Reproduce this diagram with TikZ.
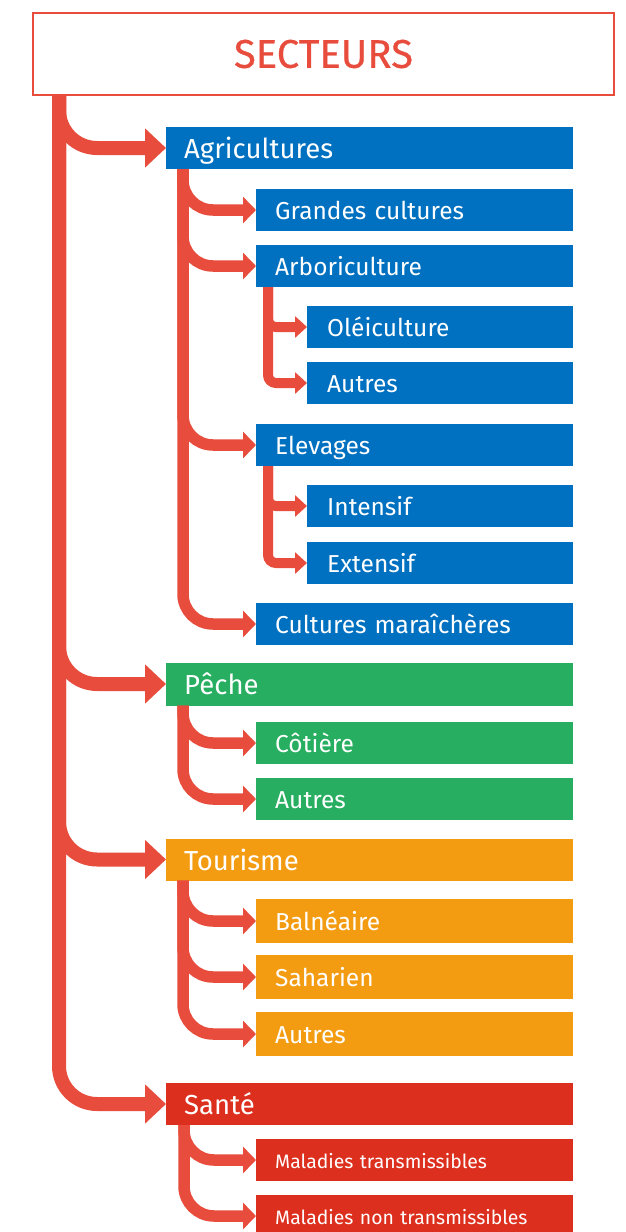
\documentclass[tikz,border=0pt]{standalone}
\usepackage{fontspec}
\setmainfont{Fira Sans}
\newfontfamily\titlefont{Fira Sans}[FakeBold=0.6]
\usetikzlibrary{arrows.meta}

\definecolor{lien}{HTML}{E74C3C}
\definecolor{bleu}{HTML}{0070C0}
\definecolor{vert}{HTML}{27AE60}
\definecolor{orange}{HTML}{F39C12}
\definecolor{rouge}{HTML}{DC2F1E}

\begin{document}
\begin{tikzpicture}[x=1pt,y=-1pt,
  box/.style={anchor=west,text=white,minimum height=42pt,inner ysep=0pt,
    align=left,text depth=0pt},
  lvlone/.style={box,text width=371pt,inner xsep=18pt,text height=21pt,
    font=\fontsize{27.5}{30}\selectfont},
  lvltwo/.style={box,text width=279pt,inner xsep=19pt,text height=18pt,
    font=\fontsize{24.5}{28}\selectfont},
  lvlthree/.style={box,text width=226pt,inner xsep=20pt,text height=18pt,
    font=\fontsize{24.5}{28}\selectfont},
  armone/.style={draw=lien,line width=14pt,rounded corners=38pt,
    -{Triangle[length=21pt,width=38pt]}},
  armtwo/.style={draw=lien,line width=11.5pt,rounded corners=30pt,
    -{Triangle[length=13pt,width=26pt]}},
  armthree/.style={draw=lien,line width=10pt,rounded corners=8pt,
    -{Triangle[length=12pt,width=21pt]}}]
  \clip (0,0) rectangle (626,1232);
  \useasboundingbox (0,0) rectangle (626,1232);

  \node[draw=lien,line width=2pt,text=lien,minimum width=581pt,minimum height=82pt,
    font=\titlefont\fontsize{40}{44}\selectfont] (title) at (323.5,54) {SECTEURS};

  % main sectors
  \node[lvlone,fill=bleu] (agri) at (166,148) {Agricultures};
  \node[lvlone,fill=vert,minimum height=43pt] (peche) at (166,684) {Pêche};
  \node[lvlone,fill=orange] (tour) at (166,859.5) {Tourisme};
  \node[lvlone,fill=rouge] (sante) at (166,1104) {Santé};

  % sub sectors
  \foreach \n/\y/\t in {gc/210/Grandes cultures, arbo/266/Arboriculture,
      elev/445/Elevages, mara/624/Cultures maraîchères}
    \node[lvltwo,fill=bleu] (\n) at (256,\y) {\t};
  \foreach \n/\y/\t in {cot/743/Côtière, autp/799/Autres}
    \node[lvltwo,fill=vert] (\n) at (256,\y) {\t};
  \foreach \n/\y/\t in {baln/921/Balnéaire, sah/977/Saharien, autt/1034/Autres}
    \node[lvltwo,fill=orange,minimum height=44pt] (\n) at (256,\y) {\t};
  \foreach \n/\y/\t in {mt/1160/Maladies transmissibles, mnt/1216/Maladies non transmissibles}
    \node[lvltwo,fill=rouge,text height=16pt,font=\fontsize{19.4}{22}\selectfont]
      (\n) at (256,\y) {\t};

  \node[lvlthree,fill=bleu] (oleic) at (307,327) {Oléiculture};
  \node[lvlthree,fill=bleu] (autar) at (307,383) {Autres};
  \node[lvlthree,fill=bleu] (intens) at (307,506) {Intensif};
  \node[lvlthree,fill=bleu] (extens) at (307,563) {Extensif};

  % connectors
  \coordinate (root) at ([xshift=27pt]title.south west);
  \foreach \n in {agri,peche,tour,sante}
    \draw[armone] (root) |- (\n.west);

  \coordinate (agrisub) at ([xshift=17pt]agri.south west);
  \coordinate (pechesub) at ([xshift=17pt]peche.south west);
  \coordinate (toursub) at ([xshift=17pt]tour.south west);
  \coordinate (santesub) at ([xshift=18pt]sante.south west);
  \foreach \n in {gc,arbo,elev,mara}
    \draw[armtwo] (agrisub) |- (\n.west);
  \foreach \n in {cot,autp}
    \draw[armtwo] (pechesub) |- (\n.west);
  \foreach \n in {baln,sah,autt}
    \draw[armtwo] (toursub) |- (\n.west);
  \foreach \n in {mt,mnt}
    \draw[armtwo] (santesub) |- (\n.west);

  \coordinate (arbosub) at ([xshift=12pt]arbo.south west);
  \coordinate (elevsub) at ([xshift=12pt]elev.south west);
  \foreach \n in {oleic,autar}
    \draw[armthree] (arbosub) |- (\n.west);
  \foreach \n in {intens,extens}
    \draw[armthree] (elevsub) |- (\n.west);
\end{tikzpicture}
\end{document}
